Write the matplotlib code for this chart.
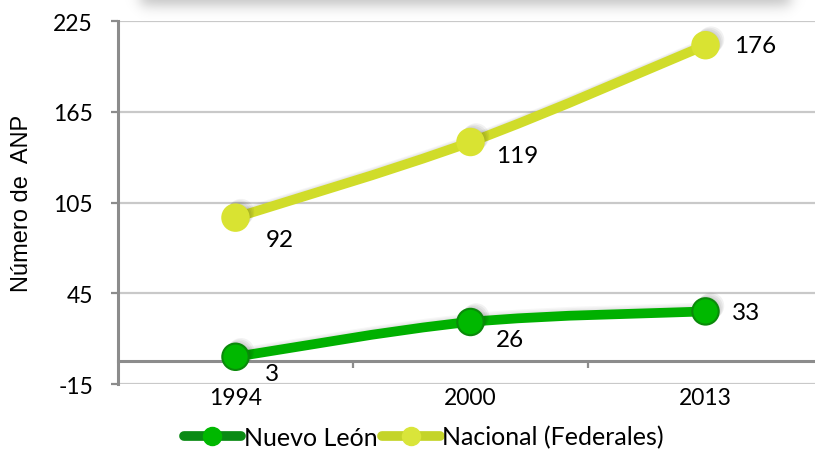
import numpy as np
import matplotlib
matplotlib.use("Agg")
import matplotlib.pyplot as plt
from matplotlib.path import Path
from matplotlib.patches import PathPatch
from matplotlib.lines import Line2D
import matplotlib.patheffects as pe

plt.rcParams["axes.unicode_minus"] = False

years = ["1994", "2000", "2013"]
nuevo_leon = [3, 26, 33]
nacional = [92, 119, 176]
y_ticks = [-15, 45, 105, 165, 225]

# label offsets in pixels (x right, y up)
nl_offsets = [(37, -17), (39, -18), (41, -1)]
nac_offsets = [(44, -22), (47, -13), (50, 0)]

FONT = ["Lato", "DejaVu Sans"]

x = np.arange(len(years))
nl_vals = np.array(nuevo_leon)
nac_vals = nl_vals + np.array(nacional)   # stacked line chart


def smooth_path(xs, ys):
    # excel-like smoothed line: cubic bezier with catmull-rom control points
    pts = np.column_stack([xs, ys]).astype(float)
    verts = [pts[0]]
    codes = [Path.MOVETO]
    n = len(pts)
    for i in range(n - 1):
        p0 = pts[i - 1] if i > 0 else pts[i]
        p1 = pts[i]
        p2 = pts[i + 1]
        p3 = pts[i + 2] if i + 2 < n else pts[i + 1]
        verts += [p1 + (p2 - p0) / 6, p2 - (p3 - p1) / 6, p2]
        codes += [Path.CURVE4] * 3
    return Path(verts, codes)


fig = plt.figure(figsize=(8.15, 4.52), dpi=100)

# soft shadow of a box sitting above the chart
sh = fig.add_axes([0, 1 - 26 / 452, 1, 26 / 452])
px = np.arange(815)[None, :]
py = np.arange(26)[:, None]
sig = lambda d: 1 / (1 + np.exp(-d / 4.0))
alpha = 0.24 * sig(px - 140) * sig(790 - px) * sig(6 - py)
img = np.zeros((26, 815, 4))
img[..., 3] = alpha
sh.imshow(img, aspect="auto", extent=(0, 815, 26, 0))
sh.axis("off")

ax = fig.add_axes([118 / 815, 1 - 385 / 452, 705 / 815, 363 / 452])
ax.set_facecolor("none")
ax.set_xlim(-0.5, 2.5)
ax.set_ylim(-15, 225)

ax.set_yticks(y_ticks)
ax.yaxis.grid(True, color="#c9c9c9", lw=1.6)
ax.set_axisbelow(True)
for s in ["top", "right"]:
    ax.spines[s].set_visible(False)
ax.spines["left"].set_color("#8c8c8c")
ax.spines["left"].set_linewidth(2.2)
ax.spines["bottom"].set_position(("data", 0))
ax.spines["bottom"].set_color("#8c8c8c")
ax.spines["bottom"].set_linewidth(2.2)

ax.tick_params(axis="y", length=5, width=1.6, color="#8c8c8c", pad=13, labelsize=16.5)
for lab in ax.get_yticklabels():
    lab.set_family(FONT)
ax.set_xticks([0.5, 1.5])
ax.set_xticklabels([])
ax.tick_params(axis="x", length=5, width=1.6, color="#8c8c8c", direction="out")

for i, yr in enumerate(years):
    ax.text(i, -0.036, yr, transform=ax.get_xaxis_transform(), ha="center",
            va="center", fontsize=16.5, family=FONT)

shadow = [pe.SimpleLineShadow(offset=(d, d), shadow_color="k", alpha=0.03) for d in (1, 2, 3)]
mshadow = [pe.SimplePatchShadow(offset=(d, d), shadow_rgbFace="k", alpha=0.05) for d in (1, 2, 3, 4)]

series = [
    (nac_vals, nacional, nac_offsets, "#d0dc2a", "#d9e332", "#d9e332"),
    (nl_vals, nuevo_leon, nl_offsets, "#00b000", "#00b800", "#0a8a0a"),
]
for yv, labels, offs, lc, mfc, mec in series:
    ax.add_patch(PathPatch(smooth_path(x, yv), fill=False, edgecolor=lc, lw=7,
                           capstyle="round", zorder=3,
                           path_effects=shadow + [pe.Normal()]))
    ax.plot(x, yv, "o", ms=19, mfc=mfc, mec=mec, mew=1.5, zorder=4,
            path_effects=mshadow + [pe.Normal()])
    for xi, yi, lab, off in zip(x, yv, labels, offs):
        ax.annotate(str(lab), (xi, yi), xytext=off, textcoords="offset pixels",
                    ha="center", va="center", fontsize=17.5, family=FONT, zorder=5)

fig.text(22 / 815, 1 - 203 / 452, "Número de  ANP", rotation=90, ha="center",
         va="center", fontsize=17, family="Liberation Sans")

h1 = Line2D([], [], color="#0a8a14", lw=7, marker="o", ms=13, mfc="#00b800",
            mec="#00b800", solid_capstyle="round")
h2 = Line2D([], [], color="#c4d42a", lw=7, marker="o", ms=13, mfc="#d9e53a",
            mec="#d9e53a", solid_capstyle="round")
fig.legend([h1, h2], ["Nuevo León", "Nacional (Federales)"], loc="center",
           bbox_to_anchor=(0.52, 0.031), ncol=2, frameon=False, handlelength=2.3,
           handletextpad=0.1, columnspacing=0.2, prop={"family": FONT, "size": 18})

fig.savefig("out.png", dpi=100)
